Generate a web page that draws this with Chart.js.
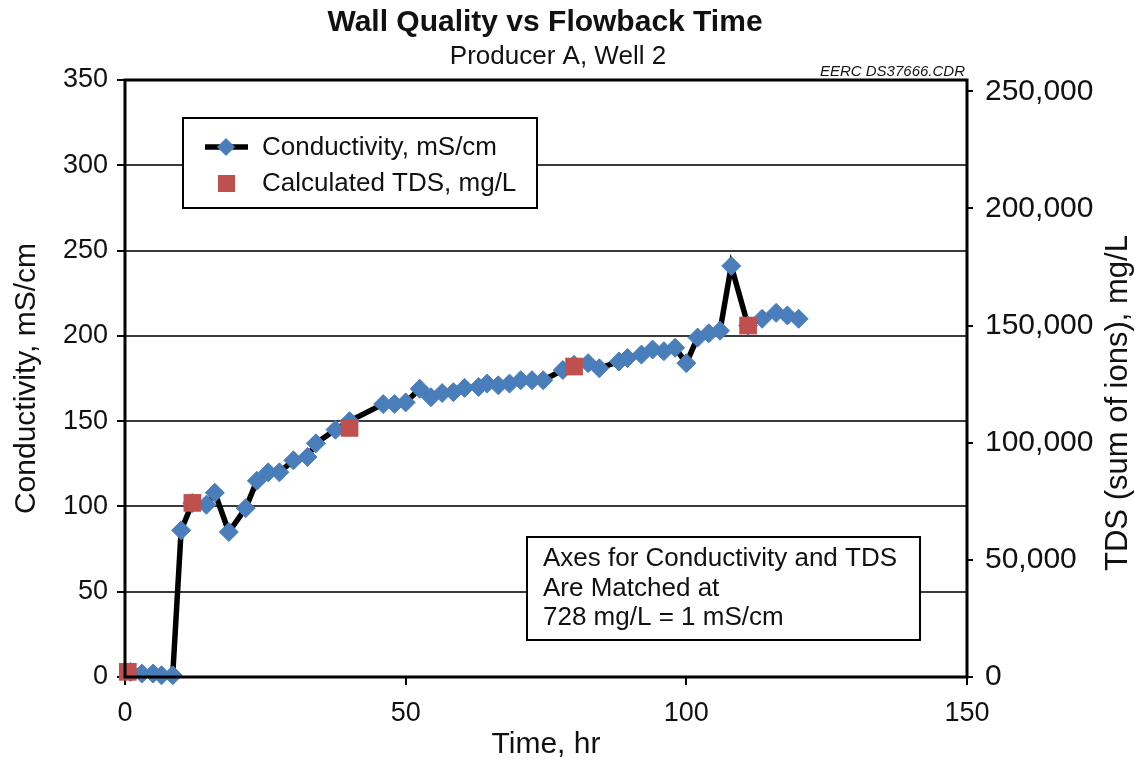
<!DOCTYPE html>
<html>
<head>
<meta charset="utf-8">
<script src="https://cdn.jsdelivr.net/npm/chart.js@4"></script>
<style>
  body { margin: 0; background: #fff; }
  canvas { display: block; }
</style>
</head>
<body>
<canvas id="wallChart" width="1138" height="763"></canvas>
<script>
const FONT = "'Liberation Sans', Arial, sans-serif";

// conductivity readings, mS/cm
const hours = [1, 3, 5, 6.5, 8.5, 10, 12, 14.5, 16, 18.5, 21.5, 23.5, 25.5, 27.5, 30, 32.5, 34, 37.5, 40,
    46, 48, 50, 52.5, 54.5, 56.5, 58.5, 60.5, 63, 64.5, 66.5, 68.5, 70.5, 72.5, 74.5, 78, 80, 82.5, 84.5,
    88, 89.5, 92, 94, 96, 98, 100, 102, 104, 106, 108, 111, 113.5, 116, 118, 120];
const conductivity = [3, 2, 2, 1, 1, 86, 102, 101, 108, 85, 99, 115, 120, 120, 127, 129, 137, 145, 150,
    160, 160, 161, 169, 164, 166.5, 167, 169.5, 170, 172, 171, 172, 174, 174, 174, 180, 183, 184, 181,
    185, 187, 189, 192, 191, 193, 184, 199, 201.5, 203, 241, 206, 210, 213.5, 212, 210];

// calculated TDS, mg/L
const tdsHours = [0.5, 12, 40, 80, 111];
const tdsValues = [2200, 74300, 106300, 132500, 150000];

const timeTicks = [0, 50, 100, 150];
const condTicks = [0, 50, 100, 150, 200, 250, 300, 350];
const tdsTicks = [0, 50000, 100000, 150000, 200000, 250000];
const mgPerMs = 728;

const noteLines = ["Axes for Conductivity and TDS", "Are Matched at", "728 mg/L = 1 mS/cm"];

const blue = "#4a7ebb";
const red = "#c0504d";
const ink = "#111";

const decorations = {
    id: "decorations",
    afterDatasetsDraw(chart) {
        const { ctx, chartArea: a } = chart;
        ctx.save();
        ctx.strokeStyle = "#000";
        ctx.lineWidth = 3;
        ctx.strokeRect(a.left, a.top, a.right - a.left, a.bottom - a.top);

        ctx.fillStyle = ink;
        ctx.textBaseline = "middle";
        ctx.textAlign = "center";
        ctx.font = "bold 30px " + FONT;
        ctx.fillText("Wall Quality vs Flowback Time", 545, 23);
        ctx.font = "26px " + FONT;
        ctx.fillText("Producer A, Well 2", 558, 57);
        ctx.textAlign = "right";
        ctx.font = "italic 15px " + FONT;
        ctx.fillText("EERC DS37666.CDR", 965, 72);

        // right axis title reads bottom to top
        ctx.save();
        ctx.translate(1118, 403);
        ctx.rotate(-Math.PI / 2);
        ctx.textAlign = "center";
        ctx.font = "31px " + FONT;
        ctx.fillText("TDS (sum of ions), mg/L", 0, 0);
        ctx.restore();

        // legend box
        ctx.fillStyle = "#fff";
        ctx.fillRect(183, 118, 354, 90);
        ctx.lineWidth = 2;
        ctx.strokeRect(183, 118, 354, 90);
        ctx.strokeStyle = "#000";
        ctx.lineWidth = 5.5;
        ctx.beginPath();
        ctx.moveTo(205, 147);
        ctx.lineTo(248, 147);
        ctx.stroke();
        ctx.fillStyle = blue;
        ctx.beginPath();
        ctx.moveTo(226, 138); ctx.lineTo(235, 147); ctx.lineTo(226, 156); ctx.lineTo(217, 147);
        ctx.closePath();
        ctx.fill();
        ctx.fillStyle = red;
        ctx.fillRect(218, 175, 17, 17);
        ctx.fillStyle = ink;
        ctx.textAlign = "left";
        ctx.font = "26px " + FONT;
        ctx.fillText("Conductivity, mS/cm", 262, 148);
        ctx.fillText("Calculated TDS, mg/L", 262, 184);

        // note box
        ctx.fillStyle = "#fff";
        ctx.fillRect(527, 537, 393, 103);
        ctx.lineWidth = 2;
        ctx.strokeRect(527, 537, 393, 103);
        ctx.fillStyle = ink;
        noteLines.forEach((t, i) => ctx.fillText(t, 543, 559 + i * 29.5));
        ctx.restore();
    },
};

new Chart(document.getElementById("wallChart"), {
    type: "scatter",
    data: {
        datasets: [
            {
                label: "Calculated TDS, mg/L",
                data: tdsHours.map((h, i) => ({ x: h, y: tdsValues[i] })),
                yAxisID: "y2",
                showLine: false,
                pointStyle: "rect",
                pointRadius: 12.5,
                pointBackgroundColor: red,
                pointBorderColor: red,
                pointBorderWidth: 0,
                clip: false,
                order: 0,
            },
            {
                label: "Conductivity, mS/cm",
                data: hours.map((h, i) => ({ x: h, y: conductivity[i] })),
                yAxisID: "y",
                showLine: true,
                borderColor: "#000",
                borderWidth: 5.5,
                tension: 0,
                pointStyle: "rectRot",
                pointRadius: 9.5,
                pointBackgroundColor: blue,
                pointBorderColor: blue,
                pointBorderWidth: 1,
                clip: false,
                order: 1,
            },
        ],
    },
    options: {
        responsive: false,
        animation: false,
        layout: { padding: { top: 80, left: 0, right: 0, bottom: 0 } },
        plugins: {
            legend: { display: false },
            tooltip: { enabled: false },
        },
        scales: {
            x: {
                type: "linear",
                min: 0,
                max: 150,
                afterBuildTicks: (s) => { s.ticks = timeTicks.map((v) => ({ value: v })); },
                afterFit: (s) => { s.height = 86; },
                border: { display: false },
                grid: { drawOnChartArea: false, tickLength: 8, tickColor: "#000", lineWidth: 2 },
                ticks: { font: { family: FONT, size: 27 }, color: ink, padding: 12 },
                title: {
                    display: true,
                    text: "Time, hr",
                    font: { family: FONT, size: 30 },
                    color: ink,
                    padding: { top: 0, bottom: 0 },
                },
            },
            y: {
                position: "left",
                min: 0,
                max: 350,
                afterBuildTicks: (s) => { s.ticks = condTicks.map((v) => ({ value: v })); },
                afterFit: (s) => { s.width = 125; },
                border: { display: false },
                grid: { color: "#3a3a3a", lineWidth: 2, tickLength: 8, tickColor: "#000" },
                ticks: { font: { family: FONT, size: 27 }, color: ink, padding: 9 },
                title: {
                    display: true,
                    text: "Conductivity, mS/cm",
                    font: { family: FONT, size: 30 },
                    color: ink,
                    padding: { top: 9, bottom: 0 },
                },
            },
            y2: {
                position: "right",
                min: 0,
                max: 350 * mgPerMs,
                afterBuildTicks: (s) => { s.ticks = tdsTicks.map((v) => ({ value: v })); },
                afterFit: (s) => { s.width = 171; },
                border: { display: false },
                grid: { drawOnChartArea: false, tickLength: 6, tickColor: "#000", lineWidth: 2 },
                ticks: {
                    font: { family: FONT, size: 30 },
                    color: ink,
                    padding: 12,
                    callback: (v) => v.toLocaleString("en-US"),
                },
            },
        },
    },
    plugins: [decorations],
});
</script>
</body>
</html>
